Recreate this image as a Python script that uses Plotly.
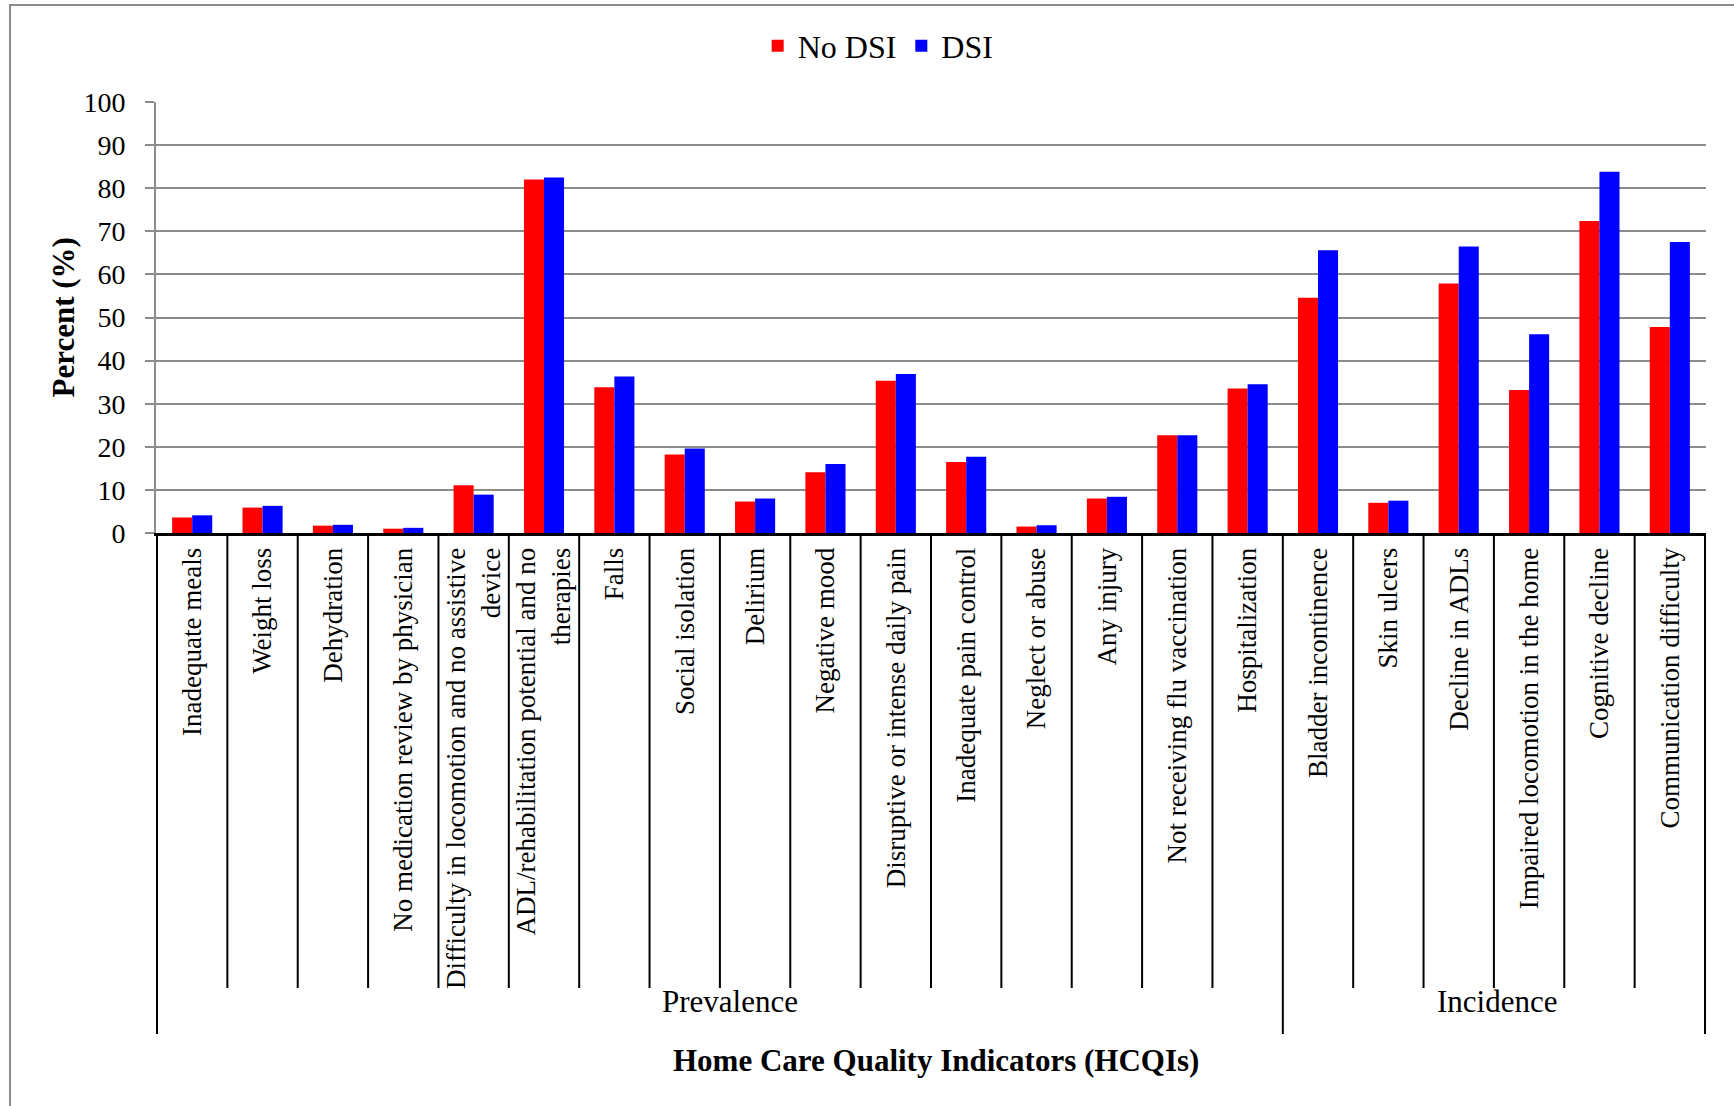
import plotly.graph_objects as go

# categories and values
categories = [
    "Inadequate meals", "Weight loss", "Dehydration",
    "No medication review by physician",
    "Difficulty in locomotion and no assistive<br>device",
    "ADL/rehabilitation potential and no<br>therapies",
    "Falls", "Social isolation", "Delirium", "Negative mood",
    "Disruptive or intense daily pain", "Inadequate pain control",
    "Neglect or abuse", "Any injury", "Not receiving flu vaccination",
    "Hospitalization",
    "Bladder incontinence", "Skin ulcers", "Decline in ADLs",
    "Impaired locomotion in the home", "Cognitive decline",
    "Communication difficulty",
]
no_dsi = [3.6, 5.9, 1.7, 1.0, 11.1, 82.0, 33.8, 18.2, 7.3, 14.1, 35.3, 16.5,
          1.5, 8.0, 22.7, 33.5, 54.6, 7.0, 57.9, 33.2, 72.4, 47.8]
dsi = [4.1, 6.3, 1.9, 1.2, 8.9, 82.5, 36.3, 19.6, 8.0, 16.0, 36.9, 17.7,
       1.8, 8.4, 22.7, 34.5, 65.6, 7.5, 66.5, 46.1, 83.8, 67.5]
groups = ["Prevalence", "Incidence"]
group_sizes = [16, 6]
y_ticks = list(range(0, 101, 10))

FONT = "Liberation Serif"

fig = go.Figure()
fig.add_trace(go.Bar(x=categories, y=no_dsi, name="No DSI", marker_color="#ff0000",
                     marker_line_width=0))
fig.add_trace(go.Bar(x=categories, y=dsi, name="DSI", marker_color="#0000ff",
                     marker_line_width=0))

# plot area in pixels: left 156, right 1706, top 102 (100%), bottom 533 (0%)
plot_h = 533 - 102
short_y = (533 - 988) / plot_h
long_y = (533 - 1034) / plot_h

shapes = []
# divider lines between categories
for i in range(len(categories) + 1):
    shapes.append(dict(type="line", xref="x", yref="paper", x0=i - 0.5, x1=i - 0.5,
                       y0=0, y1=short_y, line=dict(color="black", width=2)))
# longer lines at group boundaries
edges = [0]
for s in group_sizes:
    edges.append(edges[-1] + s)
for e in edges:
    shapes.append(dict(type="line", xref="x", yref="paper", x0=e - 0.5, x1=e - 0.5,
                       y0=short_y, y1=long_y, line=dict(color="black", width=2)))
# outer frame
shapes.append(dict(type="rect", xref="paper", yref="paper",
                   x0=(10 - 156) / 1550, x1=1.2, y0=-2, y1=(533 - 5) / plot_h,
                   line=dict(color="#8c8c8c", width=2)))

annotations = []
for g, s, e, shift in zip(groups, group_sizes, edges, [10, 3]):
    annotations.append(dict(text=g, xref="x", yref="paper", x=e + (s - 1) / 2,
                            xshift=shift,
                            y=(533 - 1001) / plot_h, xanchor="center", yanchor="middle",
                            showarrow=False,
                            font=dict(family=FONT, size=31, color="black")))
annotations.append(dict(text="<b>Home Care Quality Indicators (HCQIs)</b>", xref="paper",
                        yref="paper", x=(936 - 156) / 1550, y=(533 - 1060) / plot_h,
                        xanchor="center", yanchor="middle",
                        showarrow=False, font=dict(family=FONT, size=31, color="black")))
annotations.append(dict(text="<b>Percent (%)</b>", xref="paper", yref="paper",
                        x=(63 - 156) / 1550, y=0.5, textangle=-90, showarrow=False,
                        xanchor="center", yanchor="middle",
                        font=dict(family=FONT, size=31, color="black")))

fig.update_layout(
    width=1734, height=1106,
    margin=dict(l=156, r=28, t=102, b=573),
    barmode="group", bargap=0.43, bargroupgap=0,
    plot_bgcolor="white", paper_bgcolor="white",
    font=dict(family=FONT, color="black"),
    legend=dict(orientation="h", x=(794 * 1.106 - 156) / 1550, xanchor="center",
                y=(533 - 46) / plot_h, yanchor="middle",
                font=dict(family=FONT, size=32), itemwidth=30, tracegroupgap=0),
    shapes=shapes, annotations=annotations,
    xaxis=dict(tickangle=-90, tickfont=dict(family=FONT, size=27), ticks="",
               ticklabelstandoff=1, showline=True, linecolor="black", linewidth=3,
               showgrid=False),
    yaxis=dict(range=[0, 100], tickvals=y_ticks, tickfont=dict(family=FONT, size=28),
               showgrid=True, gridcolor="#8c8c8c", gridwidth=2,
               ticks="outside", ticklen=9, tickcolor="#8c8c8c", tickwidth=2,
               ticklabelstandoff=14,
               showline=True, linecolor="#8c8c8c", linewidth=2, zeroline=False),
)

fig.write_html("out.html", post_script="document.body.style.margin='0';",
               config={"displayModeBar": False})
